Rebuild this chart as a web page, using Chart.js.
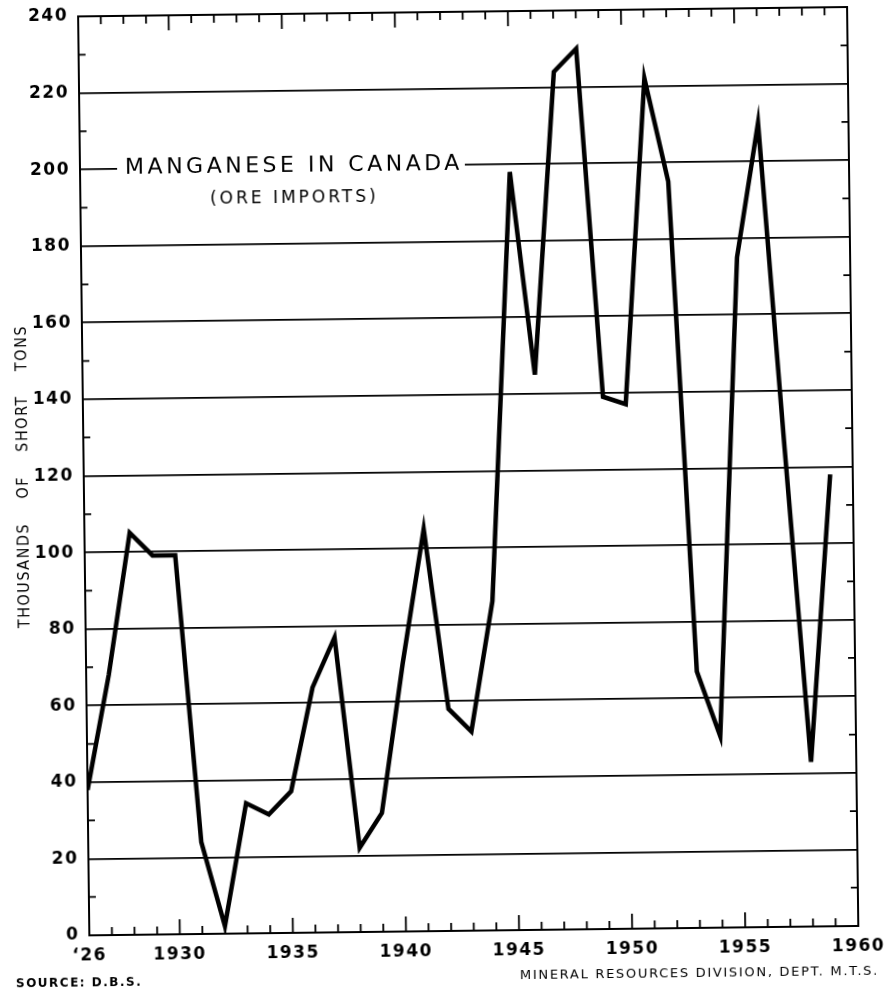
<!DOCTYPE html>
<html>
<head>
<meta charset="utf-8">
<script src="https://cdn.jsdelivr.net/npm/chart.js@4.4.0/dist/chart.umd.min.js"></script>
<style>
  html, body { margin: 0; padding: 0; background: #fff; overflow: hidden; }
  #wrap { width: 886px; height: 990px; }
  /* the printed sheet sits slightly askew */
  #chart { transform: rotate(-0.7deg); }
</style>
</head>
<body>
<div id="wrap"><canvas id="chart" width="886" height="990"></canvas></div>
<script>
// annual ore imports, thousands of short tons
const years = [1926, 1927, 1928, 1929, 1930, 1931, 1932, 1933, 1934, 1935,
               1936, 1937, 1938, 1939, 1940, 1941, 1942, 1943, 1944, 1945,
               1946, 1947, 1948, 1949, 1950, 1951, 1952, 1953, 1954, 1955,
               1956, 1957, 1958, 1959];
const oreImports = [38, 68, 105, 99, 99, 24, 2, 34, 31, 37,
                    64, 77, 22, 31, 70, 105, 58, 52, 86, 198,
                    145, 224, 230, 139, 137, 222, 195, 67, 50, 175,
                    210, 125, 43, 118];

const yearTicks = [1926, 1930, 1935, 1940, 1945, 1950, 1955, 1960];
const yearTickLabels = ['\u201826', '1930', '1935', '1940', '1945', '1950', '1955', '1960'];

const chartTitle = 'MANGANESE IN CANADA';
const chartSubtitle = '(ORE IMPORTS)';
const yAxisTitle = 'THOUSANDS    OF    SHORT    TONS';
const sourceNote = 'SOURCE: D.B.S.';
const creditNote = 'MINERAL RESOURCES DIVISION, DEPT. M.T.S.';

const FONT = 'DejaVu Sans';

// hand-lettered look: spaced out characters
const spacing = {
  id: 'spacing',
  beforeDraw(chart) { chart.ctx.letterSpacing = '1.5px'; },
  afterDraw(chart) { chart.ctx.letterSpacing = '0px'; }
};

// frame, small ticks, title on the 200 line, footnotes
const frame = {
  id: 'frame',
  afterDraw(chart) {
    const ctx = chart.ctx;
    const a = chart.chartArea;
    const xs = chart.scales.x;
    const ys = chart.scales.y;
    ctx.save();
    ctx.strokeStyle = '#000';
    ctx.lineWidth = 1.8;
    ctx.beginPath();
    for (let yr = xs.min + 1; yr < xs.max; yr++) {
      const px = xs.getPixelForValue(yr);
      const len = yr % 5 === 0 ? 15 : 8;
      ctx.moveTo(px, a.bottom); ctx.lineTo(px, a.bottom - len);
      ctx.moveTo(px, a.top); ctx.lineTo(px, a.top + len);
    }
    for (let v = ys.min + 10; v < ys.max; v += 20) {
      const py = ys.getPixelForValue(v);
      ctx.moveTo(a.left, py); ctx.lineTo(a.left + 7, py);
      ctx.moveTo(a.right, py); ctx.lineTo(a.right - 7, py);
    }
    ctx.stroke();
    ctx.lineWidth = 2;
    ctx.strokeRect(a.left, a.top, a.right - a.left, a.bottom - a.top);

    // title sits on the 200 grid line
    const gy = ys.getPixelForValue(200);
    const cx = 296;
    ctx.font = '22px ' + FONT;
    ctx.letterSpacing = '3.5px';
    const w = ctx.measureText(chartTitle).width;
    ctx.fillStyle = '#fff';
    ctx.fillRect(cx - w / 2 - 6, gy - 5, w + 10, 10);
    ctx.fillStyle = '#000';
    ctx.textAlign = 'center';
    ctx.textBaseline = 'middle';
    ctx.fillText(chartTitle, cx + 2, gy - 1);
    ctx.font = '17px ' + FONT;
    ctx.letterSpacing = '3px';
    ctx.fillText(chartSubtitle, cx + 2, gy + 31);

    ctx.textBaseline = 'alphabetic';
    ctx.textAlign = 'left';
    ctx.font = 'bold 12px ' + FONT;
    ctx.letterSpacing = '1.5px';
    ctx.fillText(sourceNote, 10, 982);
    ctx.textAlign = 'right';
    ctx.font = '13px ' + FONT;
    ctx.letterSpacing = '1.7px';
    ctx.fillText(creditNote, 873, 980);
    ctx.restore();
  }
};

const points = years.map((yr, i) => ({ x: yr, y: oreImports[i] }));

new Chart(document.getElementById('chart'), {
  type: 'line',
  data: {
    datasets: [{
      data: points,
      borderColor: '#000',
      borderWidth: 4.5,
      pointRadius: 0,
      tension: 0,
      fill: false
    }]
  },
  options: {
    responsive: false,
    animation: false,
    devicePixelRatio: 1,
    layout: { padding: { left: 0, right: 33, top: 12, bottom: 0 } },
    plugins: {
      legend: { display: false },
      tooltip: { enabled: false }
    },
    scales: {
      x: {
        type: 'linear',
        min: 1926,
        max: 1960,
        afterBuildTicks: s => { s.ticks = yearTicks.map(v => ({ value: v })); },
        afterFit: s => { s.height = 59; s.paddingLeft = 0; s.paddingRight = 0; },
        ticks: {
          autoSkip: false,
          maxRotation: 0,
          padding: 2,
          color: '#000',
          font: { family: FONT, size: 17, weight: 'bold' },
          callback: v => yearTickLabels[yearTicks.indexOf(v)]
        },
        grid: { display: false },
        border: { display: false }
      },
      y: {
        min: 0,
        max: 240,
        afterFit: s => { s.width = 84; s.paddingTop = 0; s.paddingBottom = 0; },
        ticks: {
          stepSize: 20,
          padding: 10,
          color: '#000',
          font: { family: FONT, size: 17, weight: 'bold' }
        },
        grid: { color: '#000', lineWidth: 1.7, drawTicks: false },
        border: { display: false },
        title: {
          display: true,
          text: yAxisTitle,
          color: '#000',
          font: { family: "'DejaVu Sans Condensed', 'DejaVu Sans'", size: 16 },
          padding: { top: 14, bottom: 0 }
        }
      }
    }
  },
  plugins: [spacing, frame]
});
</script>
</body>
</html>
